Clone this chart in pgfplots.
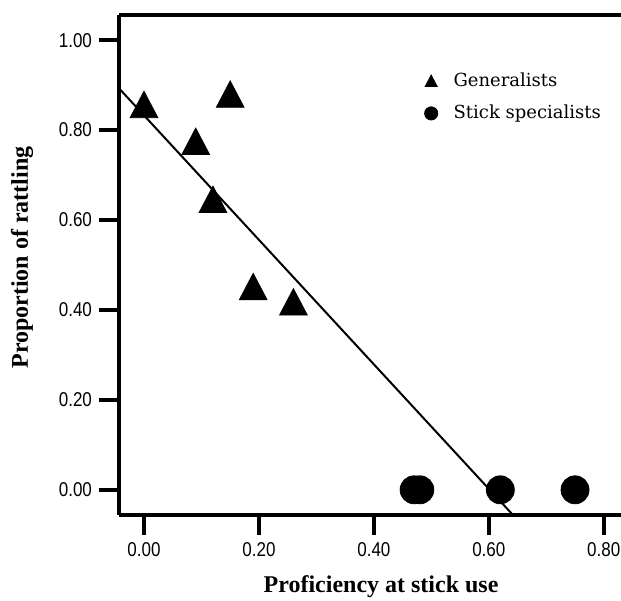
\documentclass[border=0pt]{standalone}
\usepackage{fontspec}
\setmainfont{Liberation Serif}
\newfontfamily\tickfont[FakeStretch=0.85]{Liberation Sans}
\newfontfamily\legfont{DejaVu Serif}
\usepackage{pgfplots}
\pgfplotsset{compat=1.18}

\begin{document}
\begin{tikzpicture}
\begin{axis}[
    scale only axis,
    width=251pt, height=250pt,
    xmin=-0.0435, xmax=0.83,
    ymin=-0.056, ymax=1.056,
    axis x line=bottom, axis y line=left,
    axis line style={-, line width=2pt},
    xtick={0,0.2,0.4,0.6,0.8},
    ytick={0,0.2,0.4,0.6,0.8,1.0},
    tick align=outside,
    major tick length=10pt,
    tick style={line width=2pt, black},
    /pgf/number format/assume math mode=true,
    /pgf/number format/.cd, fixed, fixed zerofill, precision=2, /pgfplots/.cd,
    ticklabel style={font=\tickfont\fontsize{10}{12}\selectfont},
    xlabel={\textbf{Proficiency at stick use}},
    ylabel={\textbf{Proportion of rattling}},
    label style={font=\fontsize{12}{14}\selectfont},
    xlabel style={at={(axis description cs:0.522,0)}, anchor=base, yshift=-38.5pt},
    ylabel style={at={(axis description cs:-0.193,0.515)}, anchor=center},
    clip=false,
    legend style={draw=none, fill=none, at={(0.596,0.902)}, anchor=north west,
        font=\legfont\fontsize{9}{11}\selectfont, row sep=4pt},
    legend cell align=left,
]
\draw[line width=2pt] (rel axis cs:0,1) -- (rel axis cs:1,1);
\coordinate (sw) at (rel axis cs:0,0);
\coordinate (ne) at (rel axis cs:1,1);

\addplot[only marks, mark=triangle*, mark size=8pt, mark options={yscale=1.1, yshift=-2.2pt, fill=black},
    legend image code/.code={\draw[mark size=3.5pt] plot[mark=triangle*] coordinates {(0cm,0.05cm)}; \path (9pt,0);}]
  coordinates {
    (0.00, 0.858)
    (0.15, 0.881)
    (0.09, 0.776)
    (0.12, 0.647)
    (0.19, 0.453)
    (0.26, 0.419)
  };
\addlegendentry{Generalists}

\addplot[only marks, mark=*, mark size=7pt, mark options={fill=black},
    legend image code/.code={\draw[mark size=3.3pt] plot[mark=*] coordinates {(0cm,0cm)}; \path (9pt,0);}]
  coordinates {
    (0.47, 0)
    (0.48, 0)
    (0.62, 0)
    (0.75, 0)
  };
\addlegendentry{Stick specialists}

\addplot[black, line width=1pt, forget plot] coordinates {
    (-0.0435, 0.893)
    (0.642, -0.056)
  };
\end{axis}
\pgfresetboundingbox
\path ([xshift=-59.5pt,yshift=-42.5pt]sw) rectangle ([yshift=7.5pt]ne);
\end{tikzpicture}
\end{document}
